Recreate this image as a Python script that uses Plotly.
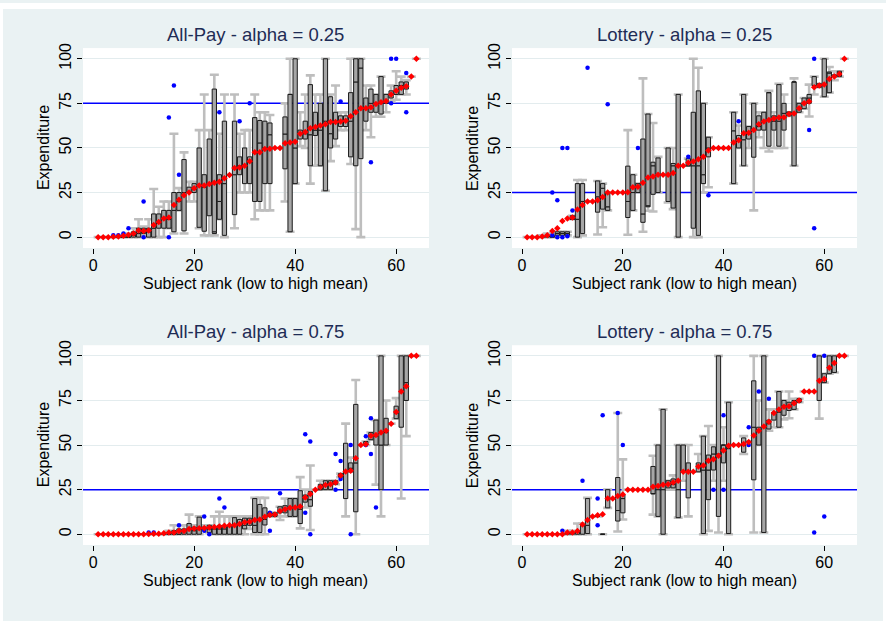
import plotly.graph_objects as go

# ---------------------------------------------------------------------------
# Data: 64 subjects per treatment, ranked from low to high mean expenditure.
# For each subject: mean, quartiles, whisker ends and outlying observations.
# ---------------------------------------------------------------------------
RANKS = list(range(1, 65))

# All-Pay, alpha = 0.25
AP25_MEAN = [0, 0, 0, 0.2, 0.3, 0.8, 1.3, 2, 3.7, 3.5,
             3.7, 6.8, 8.5, 10.5, 11, 18, 21, 23.5, 25, 27.4,
             29, 29, 29.8, 30.5, 31, 33, 34.8, 38.7, 39, 40,
             42.6, 47.6, 47.6, 49.4, 49.6, 50, 50, 52.6, 53, 53.5,
             58, 59, 61, 61.7, 62.6, 63.3, 64.6, 64.6, 64.8, 65.2,
             67.8, 70, 72.2, 72.2, 72.8, 74.6, 75.6, 76.3, 80, 82,
             83.7, 84.6, 90, 100]
AP25_Q1 = [0, 0, 0, 0, 0, 0, 0, 0, 0, 2,
           0, 0, 5, 5, 5, 3, 15, 3.5, 25, 25,
           5.5, 3.3, 12, 2, 10, 1, 35, 12.6, 35, 30,
           30, 20, 20, 30, 30, 50, 50, 38.3, 3, 30,
           55, 55, 40, 57, 40, 26, 50, 55, 62, 62,
           45, 40, 44, 65, 70, 70, 69, 75, 78, 80,
           80, 83, 90, 100]
AP25_MED = [0, 0, 0, 0, 0, 0, 0, 1, 2, 3,
            3, 5, 8, 10, 10, 15, 20, 25, 25, 27,
            29, 28, 30, 3, 20, 30, 35, 35, 40, 40,
            42, 47, 52.8, 50, 57.4, 50, 50, 57.8, 80, 50,
            58, 58, 57.4, 60, 60, 65, 58, 65, 65, 65,
            65, 87, 94.8, 72, 75, 75, 75, 76, 80, 80,
            85, 85, 90, 100]
AP25_Q3 = [0, 0, 0, 0, 0, 0, 0, 3, 5, 5,
           5, 13, 13, 15, 15, 25, 25, 43.5, 28, 30,
           50, 35, 55, 83, 35, 65, 35, 65, 45, 50,
           45, 67, 65.4, 65, 64, 50, 50, 67.4, 80, 100,
           60, 65, 85.5, 70, 75, 100, 78.7, 70, 68, 68,
           81, 100, 100, 78, 83, 80, 90, 80, 82, 85,
           87, 87, 90, 100]
AP25_LO = [0, 0, 0, 0, 0, 0, 0, 0, 0, 1,
           0, 0, 0, 0, 5, 2, 15, 2, 20, 20,
           5, 1, 1, 1, 10, 0, 35, 5, 25, 25,
           25, 10, 15, 15, 15, 50, 50, 20, 3, 30,
           51, 50, 30, 40, 40, 26, 42.6, 51, 60, 60,
           41, 4.5, 0, 60, 56, 67.5, 67.5, 70, 76, 77,
           80, 80, 90, 100]
AP25_HI = [0, 0, 0, 0, 0, 1, 2, 5, 10, 6,
           10, 27, 17, 20, 20, 58, 27.5, 47.5, 31, 31,
           60, 80, 60, 91, 58, 80, 35, 80, 58, 60,
           60, 80, 70, 70, 68.5, 50, 50, 75, 100, 100,
           70, 80, 90.7, 80, 80, 100, 80, 85, 70, 70,
           100, 100, 100, 85, 85, 80, 90, 80, 85, 93,
           90, 88, 90, 100]
AP25_OUT_RANK = [4, 5, 6, 7, 10, 10, 15, 15, 16, 17, 25, 29, 31, 49, 55, 59, 59, 60, 62, 62]
AP25_OUT_VAL = [1, 1, 2, 5, 20, 0, 67, 0, 85, 35, 70, 65, 75, 76, 42, 100, 75, 100, 92, 70]

# Lottery, alpha = 0.25
LT25_MEAN = [0, 0, 0, 0.3, 1, 3.5, 5, 9, 10.5, 11,
             15.5, 18, 20, 20, 20.7, 22.5, 25, 25, 25, 25,
             25.2, 28, 28.3, 30.5, 33.5, 34, 35, 35, 35, 36,
             40, 40, 41.7, 42.4, 43.7, 45, 48.5, 50, 50, 50,
             50, 53, 54.3, 58.3, 58.5, 60, 63.3, 64.8, 65.7, 66.5,
             67, 67.2, 69, 69.3, 72.2, 75, 76, 84, 85, 85.6,
             88.6, 90, 91.5, 100]
LT25_Q1 = [0, 0, 0, 0, 0, 0, 1, 1, 1, 10,
           0, 2, 20, 20, 14, 15.7, 15, 25, 25, 25,
           11, 15, 25, 8.3, 17, 24, 25, 35, 20, 16.3,
           0, 40, 40, 5, 1, 30, 45, 50, 50, 50,
           50, 30, 50, 40, 55, 44.8, 60, 60, 51, 60,
           51, 60, 68, 40, 70, 72, 75, 85, 84, 78.7,
           81, 90, 90, 100]
LT25_MED = [0, 0, 0, 0, 1, 0, 2, 2, 2, 10,
            10, 20, 20, 20, 22.6, 27.4, 17, 25, 25, 25,
            20, 25, 28, 13, 17.6, 40, 35, 35, 35, 40,
            40, 40, 40, 40, 40, 35, 50, 50, 50, 50,
            50, 59.6, 55, 54.6, 58, 60, 62, 65, 81, 65,
            65, 69.4, 70, 87, 72, 75, 78, 85, 85, 85,
            92, 90, 92, 100]
LT25_Q3 = [0, 0, 0, 0, 1, 1, 3, 3, 3, 12,
           30, 30, 20, 20, 31.5, 30, 25, 25, 25, 25,
           39.8, 35, 30, 55, 69, 42, 44.4, 35, 50, 41.3,
           80, 40, 44, 70, 82, 75, 56, 50, 50, 50,
           50, 70, 57, 80, 62, 75, 68, 70, 81, 68,
           85.5, 75, 70, 87, 75, 78, 80, 90, 86, 100,
           92.6, 91, 93, 100]
LT25_LO = [0, 0, 0, 0, 0, 0, 1, 1, 1, 10,
           0, 1, 20, 20, 1.5, 5.5, 15, 25, 25, 25,
           1.3, 15, 25, 3, 14.8, 14.4, 25, 35, 19.4, 15.7,
           0, 40, 40, 0, 0, 25, 28, 50, 50, 50,
           50, 30, 50, 40, 50, 15, 56, 50, 48, 50,
           50, 50, 68, 40, 70, 72, 67.6, 80, 84, 78.7,
           81, 88, 90, 100]
LT25_HI = [0, 0, 0, 1, 2, 2, 3, 3, 3, 12,
           32, 32, 20, 20, 31.5, 30, 25, 25, 25, 25,
           60, 35, 30, 89, 69, 64, 45, 35, 50, 50,
           80, 40, 44, 100, 95, 75, 56, 50, 50, 50,
           50, 70, 62.6, 80, 62, 75, 70, 70, 82, 70,
           86, 80, 70, 89, 75, 78, 85.5, 90, 86, 100,
           95.4, 93, 93, 100]
LT25_OUT_RANK = [6, 6, 7, 7, 8, 8, 9, 9, 10, 13, 17, 23, 33, 37, 43, 57, 58, 58]
LT25_OUT_VAL = [25, 1, 20.7, 0, 50, 0, 50, 0.5, 15, 95, 74.5, 50, 45, 23.5, 65, 60, 100, 5]

# All-Pay, alpha = 0.75
AP75_MEAN = [0, 0, 0, 0, 0, 0, 0, 0, 0, 0,
             0.2, 0.3, 0.3, 0.5, 1, 1, 1.8, 1.8, 3, 3.2,
             3.3, 3.5, 3.8, 4, 4.3, 4.8, 5, 5, 5.8, 6.7,
             7, 8, 8.3, 9.8, 10.8, 11, 13, 14, 14.8, 15,
             15.6, 20.6, 22.5, 25, 26.5, 27.6, 28, 29, 33, 35.2,
             35.6, 42.6, 50, 50.5, 55.2, 55.6, 57, 58, 62, 68.5,
             80, 83, 100, 100]
AP75_Q1 = [0, 0, 0, 0, 0, 0, 0, 0, 0, 0,
           0, 0, 0, 0, 0, 0, 0, 0, 0, 0,
           0, 3, 1, 0, 0, 0, 0, 0, 0, 3,
           5, 1, 1, 5.2, 10, 10, 12, 12, 10, 10,
           6, 18, 15.7, 25, 25, 25, 25, 28, 32, 20,
           35, 12.6, 50, 50, 53, 50, 25, 50, 62, 64.8,
           60, 75, 100, 100]
AP75_MED = [0, 0, 0, 0, 0, 0, 0, 0, 0, 0,
            0, 0, 0, 0, 0, 0, 0, 2, 3, 2,
            3, 3, 3, 3, 3, 3, 5, 5, 5, 5,
            7, 5, 8, 8.3, 11, 11, 13, 14, 15, 15,
            14, 20, 19.4, 25, 25, 28, 28, 29, 33, 35,
            37, 40, 50, 50, 55, 55, 50, 57, 62, 68,
            80, 85, 100, 100]
AP75_Q3 = [0, 0, 0, 0, 0, 0, 0, 0, 0, 0,
           0, 0, 0, 0, 0, 2, 3, 3, 6, 4,
           9.6, 4, 5, 4, 5, 5, 5, 9.3, 8.3, 9,
           9, 20, 16.7, 14.8, 12, 12, 15.4, 16, 20, 20,
           24.4, 22, 24, 25, 28, 30, 30, 30, 34, 51,
           40, 72.8, 50, 52, 57, 64, 100, 65, 62, 71.8,
           100, 100, 100, 100]
AP75_LO = [0, 0, 0, 0, 0, 0, 0, 0, 0, 0,
           0, 0, 0, 0, 0, 0, 0, 0, 0, 0,
           0, 3, 1, 0, 0, 0, 0, 0, 0, 0,
           3, 0, 0, 0, 10, 10, 8, 10, 10, 10,
           3.3, 15, 2.4, 25, 25, 25, 25, 28, 32, 10,
           35, 0, 50, 50, 53, 27.8, 10, 50, 62, 64.8,
           20, 55, 100, 100]
AP75_HI = [0, 0, 0, 0, 0, 0, 0, 0, 0, 0,
           0, 0, 0, 0, 2, 5, 5, 5, 11, 5,
           10, 5, 5, 10, 12.6, 10, 10, 10, 10, 10,
           10, 20.4, 20.4, 20.4, 12, 12, 15.4, 20, 20, 20,
           32, 25, 38.5, 25, 30, 30, 30, 30, 34, 62,
           43, 86.5, 50, 52, 57, 64, 100, 75, 62, 76.3,
           100, 100, 100, 100]
AP75_OUT_RANK = [11, 12, 17, 22, 22, 23, 25, 26, 35, 35, 37, 42, 42, 43, 43,
                 48, 48, 49, 49, 51, 51, 54, 54, 55, 55, 56]
AP75_OUT_VAL = [1, 1, 5, 10, 2, 0, 20, 15, 2, 12, 23, 56, 12, 52, 0,
                45, 25, 41, 31, 50, 0, 55, 50, 65, 45, 15]

# Lottery, alpha = 0.75
LT75_MEAN = [0, 0, 0, 0, 0, 0, 0, 0, 1, 1,
             1.8, 5.5, 8, 10, 10.6, 11.2, 20, 20, 21.5, 22.3,
             25, 25, 25, 25, 25, 26.6, 27, 27.8, 28, 29,
             30, 35, 35, 35, 38, 38.5, 41.2, 42, 44, 47,
             49.6, 50, 50, 50.6, 51.7, 55.4, 58, 60.4, 63, 68,
             70, 71.5, 71.8, 73.5, 75, 80, 80, 80, 86, 87,
             93.3, 96, 100, 100]
LT75_Q1 = [0, 0, 0, 0, 0, 0, 0, 0, 0, 0,
           0, 0, 0.4, 10, 10, 0, 14.8, 20, 7.4, 12,
           25, 25, 25, 25, 25, 22.6, 10, 0, 26, 26,
           9.3, 35, 20.4, 35, 35, 0.4, 19.4, 36, 10, 40,
           0.4, 50, 50, 46, 52, 30.5, 50, 1, 59, 64,
           60, 66.7, 69.4, 70, 74, 80, 80, 80, 75, 85,
           90, 90.7, 100, 100]
LT75_MED = [0, 0, 0, 0, 0, 0, 0, 0, 1, 1,
            1, 5, 5, 10, 10, 0, 20, 20, 13.3, 20,
            25, 25, 25, 25, 25, 22.8, 25, 25, 28, 28,
            25, 35, 35, 35, 38, 36, 36, 45, 45, 50,
            48, 50, 50, 50, 52, 60, 58.3, 60, 62, 68,
            68.5, 72, 72, 73, 75, 80, 80, 80, 86, 87,
            93, 96, 100, 100]
LT75_Q3 = [0, 0, 0, 0, 0, 0, 0, 0, 1, 1,
           2, 5, 20, 10, 10, 0, 25, 20, 31.8, 22,
           25, 25, 25, 25, 25, 38, 50, 70, 30, 31,
           50, 50, 40, 35, 40, 55, 44.4, 49, 100, 50,
           74, 50, 50, 54, 52, 86, 60, 100, 64, 68.5,
           80, 75, 74, 75, 76, 80, 80, 80, 100, 90,
           100, 100, 100, 100]
LT75_LO = [0, 0, 0, 0, 0, 0, 0, 0, 0, 0,
           0, 0, 0, 10, 10, 0, 14.8, 20, 1.5, 8.3,
           25, 25, 25, 25, 25, 11, 10, 0, 25, 25,
           9.3, 30, 10, 35, 35, 0, 1.9, 30, 1, 30,
           0, 50, 50, 45, 52, 1, 50, 1, 58, 60,
           60, 64.4, 65, 70, 74, 80, 80, 80, 64.8, 85,
           90, 90.7, 100, 100]
LT75_HI = [0, 0, 0, 0, 0, 0, 0, 0, 2, 2,
           6, 6, 20.4, 10, 10, 0, 25, 20, 68, 42,
           25, 25, 25, 25, 25, 44, 50, 70, 30, 33,
           50, 50, 50, 35, 45, 55, 60.7, 50, 100, 60,
           74, 50, 50, 55, 52, 100, 75, 100, 70, 70,
           80, 75, 80, 76, 76, 80, 80, 80, 100, 90,
           100, 100, 100, 100]
LT75_OUT_RANK = [8, 12, 15, 15, 16, 19, 20, 38, 40, 40, 45, 45, 47, 49, 58, 58, 60, 60]
LT75_OUT_VAL = [2, 30, 20, 5, 66.7, 68, 50, 25, 25, 66.7, 60, 50, 80, 76, 100, 1, 100, 10]

# Panel titles and equilibrium expenditure levels
TITLES = ["All-Pay - alpha = 0.25", "Lottery - alpha = 0.25",
          "All-Pay - alpha = 0.75", "Lottery - alpha = 0.75"]
EQUILIBRIUM = [75, 25, 25, 25]

X_TITLE = "Subject rank (low to high mean)"
Y_TITLE = "Expenditure"
X_TICKS = [0, 20, 40, 60]
Y_TICKS = [0, 25, 50, 75, 100]
X_RANGE = [-2.0, 66.5]
Y_RANGE = [-5.9, 105.7]

PANELS = [
    (AP25_MEAN, AP25_Q1, AP25_MED, AP25_Q3, AP25_LO, AP25_HI, AP25_OUT_RANK, AP25_OUT_VAL),
    (LT25_MEAN, LT25_Q1, LT25_MED, LT25_Q3, LT25_LO, LT25_HI, LT25_OUT_RANK, LT25_OUT_VAL),
    (AP75_MEAN, AP75_Q1, AP75_MED, AP75_Q3, AP75_LO, AP75_HI, AP75_OUT_RANK, AP75_OUT_VAL),
    (LT75_MEAN, LT75_Q1, LT75_MED, LT75_Q3, LT75_LO, LT75_HI, LT75_OUT_RANK, LT75_OUT_VAL),
]

# ---------------------------------------------------------------------------
# Layout geometry (pixels in an 886 x 624 canvas, margins are zero)
# ---------------------------------------------------------------------------
W, H = 886, 624
COL_PX = [(83, 429), (512, 857)]
ROW_PX = [(43, 244), (343, 544)]

FONT = "Liberation Sans, Arial, Helvetica, sans-serif"
BG = "#EAF2F3"
GRID = "#E3ECEE"
WHISKER = "#BEBEBE"
BOX_FILL = "#A6A6A6"
BOX_EDGE = "#1A1A1A"
TITLE_COLOR = "#1E2C55"
TICK_SIZE = 16
LABEL_SIZE = 16

fig = go.Figure()
annotations = []

for i, (mean, q1, med, q3, lo, hi, out_r, out_v) in enumerate(PANELS):
    row, col = divmod(i, 2)
    sfx = "" if i == 0 else str(i + 1)
    xa, ya = "x" + sfx, "y" + sfx
    (xl, xr), (yt, yb) = COL_PX[col], ROW_PX[row]
    xdom = [xl / W, xr / W]
    ydom = [1 - yb / H, 1 - yt / H]

    # equilibrium reference line
    fig.add_trace(go.Scatter(
        x=X_RANGE, y=[EQUILIBRIUM[i]] * 2, mode="lines",
        line=dict(color="#0000FF", width=1.5),
        xaxis=xa, yaxis=ya, hoverinfo="skip", zorder=0))

    # whiskers with end caps
    fig.add_trace(go.Scatter(
        x=RANKS, y=med, mode="markers",
        marker=dict(size=2, opacity=0),
        error_y=dict(type="data", symmetric=False,
                     array=[h - m for h, m in zip(hi, med)],
                     arrayminus=[m - l for m, l in zip(med, lo)],
                     color=WHISKER, thickness=2.6, width=4.5),
        xaxis=xa, yaxis=ya, zorder=1))

    # interquartile boxes split at the median
    for base, top in ((q1, med), (med, q3)):
        fig.add_trace(go.Bar(
            x=RANKS, y=[t - b for t, b in zip(top, base)], base=base,
            width=0.85,
            marker=dict(color=BOX_FILL, line=dict(color=BOX_EDGE, width=1)),
            xaxis=xa, yaxis=ya, zorder=2))

    # outlying observations
    fig.add_trace(go.Scatter(
        x=out_r, y=out_v, mode="markers",
        marker=dict(color="#0000FF", size=4.5, line=dict(width=0)),
        xaxis=xa, yaxis=ya, zorder=3))

    # subject means
    fig.add_trace(go.Scatter(
        x=RANKS, y=mean, mode="markers",
        marker=dict(color="#FF0000", symbol="diamond", size=5, line=dict(width=0)),
        xaxis=xa, yaxis=ya, zorder=4))

    fig.layout["xaxis" + sfx] = dict(
        domain=xdom, anchor=ya, range=X_RANGE, tickvals=X_TICKS,
        showgrid=False, zeroline=False, showline=True, linecolor="#000000",
        linewidth=1, ticks="outside", ticklen=5, tickcolor="#000000",
        ticklabelstandoff=-2,
        tickfont=dict(family=FONT, size=TICK_SIZE, color="#000000"))
    fig.layout["yaxis" + sfx] = dict(
        domain=ydom, anchor=xa, range=Y_RANGE, tickvals=Y_TICKS,
        tickangle=-90, showgrid=True, gridcolor=GRID, gridwidth=1,
        zeroline=False, showline=True, linecolor="#000000", linewidth=1,
        ticks="outside", ticklen=5, tickcolor="#000000",
        tickfont=dict(family=FONT, size=TICK_SIZE, color="#000000"))

    cx = (xl + xr) / 2 / W
    cy = 1 - (yt + yb) / 2 / H
    annotations.append(dict(
        text=TITLES[i], x=cx, y=1 - (yt - 14) / H, xref="paper", yref="paper",
        xanchor="center", yanchor="middle", showarrow=False,
        font=dict(family=FONT, size=18.5, color=TITLE_COLOR)))
    annotations.append(dict(
        text=X_TITLE, x=cx, y=1 - (yb + 36) / H, xref="paper", yref="paper",
        xanchor="center", yanchor="middle", showarrow=False,
        font=dict(family=FONT, size=LABEL_SIZE, color="#000000")))
    annotations.append(dict(
        text=Y_TITLE, x=(xl - 40) / W, y=cy, xref="paper", yref="paper",
        xanchor="center", yanchor="middle", showarrow=False, textangle=-90,
        font=dict(family=FONT, size=LABEL_SIZE, color="#000000")))

fig.update_layout(
    width=W, height=H,
    margin=dict(l=0, r=0, t=0, b=0),
    paper_bgcolor=BG, plot_bgcolor="#FFFFFF",
    barmode="overlay", showlegend=False,
    annotations=annotations,
    shapes=[dict(type="rect", xref="paper", yref="paper", x0=0, x1=1, y0=0, y1=1,
                 line=dict(color="#FFFFFF", width=6), fillcolor="rgba(0,0,0,0)",
                 layer="above")],
    font=dict(family=FONT),
)

fig.write_html("out.html")
